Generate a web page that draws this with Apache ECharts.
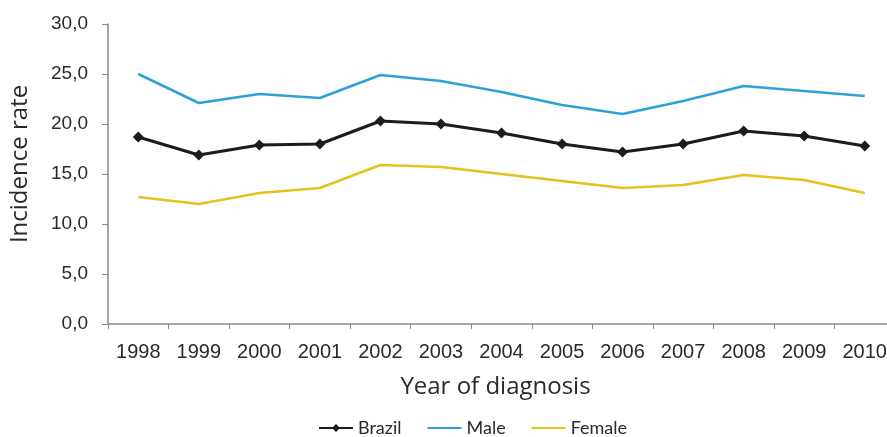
<!DOCTYPE html>
<html>
<head>
<meta charset="utf-8">
<script src="https://cdn.jsdelivr.net/npm/echarts@6/dist/echarts.min.js"></script>
<style>
html,body{margin:0;padding:0;background:#fff;overflow:hidden;width:887px;height:437px;}
#chart{width:895px;height:437px;}
</style>
</head>
<body>
<div id="chart"></div>
<script>
var years = ['1998','1999','2000','2001','2002','2003','2004','2005','2006','2007','2008','2009','2010'];
var brazil = [18.7, 16.9, 17.9, 18.0, 20.3, 20.0, 19.1, 18.0, 17.2, 18.0, 19.3, 18.8, 17.8];
var male   = [25.0, 22.1, 23.0, 22.6, 24.9, 24.3, 23.2, 21.9, 21.0, 22.3, 23.8, 23.3, 22.8];
var female = [12.7, 12.0, 13.1, 13.6, 15.9, 15.7, 15.0, 14.3, 13.6, 13.9, 14.9, 14.4, 13.1];
var yTicks = [0, 5, 10, 15, 20, 25, 30];

var chart = echarts.init(document.getElementById('chart'));
chart.setOption({
  animation: false,
  backgroundColor: '#ffffff',
  grid: { left: 104, right: 0, top: 24, bottom: 113, containLabel: false },
  legend: {
    left: 313, top: 414,
    itemWidth: 34, itemHeight: 10, itemGap: 25,
    textStyle: { fontFamily: 'Lato', fontSize: 18, color: '#2a2a2a' },
    data: [
      { name: 'Brazil' },
      { name: 'Male', itemStyle: { opacity: 0 } },
      { name: 'Female', itemStyle: { opacity: 0 } }
    ]
  },
  xAxis: {
    type: 'category',
    data: years,
    boundaryGap: true,
    name: 'Year of diagnosis',
    nameLocation: 'middle',
    nameGap: 51,
    nameTextStyle: { fontFamily: 'Open Sans', fontSize: 24, color: '#2a2a2a', padding: [0, 12, 0, 0] },
    axisLine: { show: true, lineStyle: { color: '#8a8a8a', width: 1.5 } },
    axisTick: { show: true, length: 5, lineStyle: { color: '#8a8a8a' } },
    axisLabel: { margin: 18, fontFamily: 'Liberation Sans', fontSize: 20, color: '#2a2a2a' },
    splitLine: { show: false }
  },
  yAxis: {
    type: 'value',
    min: yTicks[0], max: yTicks[yTicks.length - 1], interval: 5,
    name: 'Incidence rate',
    nameLocation: 'middle',
    nameGap: 76,
    nameTextStyle: { fontFamily: 'Open Sans', fontSize: 24, color: '#2a2a2a', padding: [0, 0, 0, 20] },
    axisLine: { show: true, lineStyle: { color: '#8a8a8a', width: 1.5 } },
    axisTick: { show: true, length: 6, lineStyle: { color: '#8a8a8a' } },
    axisLabel: {
      margin: 20, fontFamily: 'Liberation Sans', fontSize: 19, color: '#2a2a2a',
      formatter: function (v) { return v.toFixed(1).replace('.', ','); }
    },
    splitLine: { show: false }
  },
  series: [
    {
      name: 'Brazil', type: 'line', data: brazil,
      symbol: 'diamond', symbolSize: 11,
      itemStyle: { color: '#1c1c1c' },
      lineStyle: { color: '#1c1c1c', width: 3 }
    },
    {
      name: 'Male', type: 'line', data: male,
      symbol: 'none',
      itemStyle: { color: '#2ea2d8' },
      lineStyle: { color: '#2ea2d8', width: 2.5 }
    },
    {
      name: 'Female', type: 'line', data: female,
      symbol: 'none',
      itemStyle: { color: '#e6c21c' },
      lineStyle: { color: '#e6c21c', width: 2.5 }
    }
  ]
});
</script>
</body>
</html>
